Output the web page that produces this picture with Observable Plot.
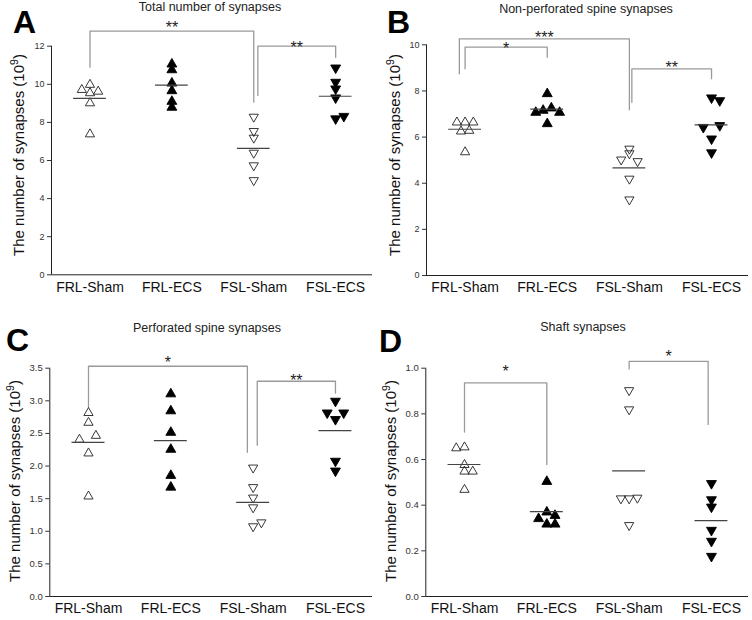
<!DOCTYPE html>
<html><head><meta charset="utf-8">
<script src="https://cdn.jsdelivr.net/npm/d3@7"></script>
<script src="https://cdn.jsdelivr.net/npm/@observablehq/plot@0.6"></script>
<style>
body{margin:0;background:#fff;font-family:"Liberation Sans",Arial,sans-serif;}
#fig{position:relative;width:752px;height:620px;overflow:hidden;background:#fff;}
.panel{position:absolute;width:376px;}
.panel svg{position:absolute;left:0;top:0;}
.letter{position:absolute;font-weight:bold;font-size:32px;line-height:1;color:#000;}
.title{position:absolute;font-size:12.5px;line-height:1;transform:translateX(-50%);white-space:nowrap;color:#222;}
.ylab{position:absolute;font-size:15px;line-height:1;white-space:nowrap;transform:translate(-50%,-50%) rotate(-90deg);color:#111;}
.ylab sup{font-size:10.5px;vertical-align:0;position:relative;top:-6px;}
</style></head><body><div id="fig"></div>
<script>
// ---------- data ----------
const groups = ["FRL-Sham", "FRL-ECS", "FSL-Sham", "FSL-ECS"];

// Panel A: total number of synapses (10^9), one array per group
const totalValues = [
  [10.03, 9.76, 9.67, 9.59, 9.06, 7.43],
  [11.11, 10.81, 10.11, 9.71, 9.15, 8.84],
  [8.24, 7.49, 7.14, 6.35, 5.69, 4.91],
  [10.81, 10.06, 9.71, 9.24, 8.27, 8.14]
];
const totalJitter = [[0,-0.1,0.1,0,0,0],[0,0,0,0,0,0],[0,0,0,0,0,0],[0,0,0,0,0.1,0]];
const totalTicks = [0, 2, 4, 6, 8, 10, 12];
// [from group, to group, top, left end, right end, label, label y]
const totalBrackets = [[0, 2, 12.79, 10.9, 9.06, "**", 13.19], [2.05, 3, 12.0, 9.41, 11.42, "**", 12.16]];

// Panel B: non-perforated spine synapses
const nonPerfValues = [
  [6.68, 6.68, 6.68, 6.29, 6.32, 5.39],
  [7.92, 7.11, 7.2, 7.3, 7.11, 6.62],
  [5.45, 5.25, 4.98, 4.91, 4.15, 3.25],
  [7.66, 7.54, 6.38, 6.46, 5.88, 5.28]
];
const nonPerfJitter = [[-0.1,0,0.1,-0.05,0.05,0],[0,-0.14,-0.05,0.05,0.15,0],[0,0,-0.1,0.1,0,0],[0,0.1,-0.1,0.1,0,0]];
const nonPerfTicks = [0, 2, 4, 6, 8, 10];
const nonPerfBrackets = [[-0.07, 2, 10.26, 8.74, 7.18, "***", 10.49], [0, 1, 9.9, 8.96, 9.46, "*", 10.04], [2.03, 3, 8.96, 7.51, 8.53, "**", 9.18]];

// Panel C: perforated spine synapses
const perfValues = [
  [2.83, 2.68, 2.42, 2.48, 2.21, 1.55],
  [3.12, 2.86, 2.53, 2.27, 1.87, 1.69],
  [1.96, 1.66, 1.5, 1.35, 1.06, 1.12],
  [2.98, 2.8, 2.8, 2.7, 2.06, 1.91]
];
const perfJitter = [[0,0,-0.11,0.09,0,0],[0,0,0,0,0,0],[0,0,0,0,0,0.1],[0,-0.1,0.1,0,0,0]];
const perfTicks = [0, 0.5, 1, 1.5, 2, 2.5, 3, 3.5];
const perfBrackets = [[0, 1.93, 3.53, 2.9, 2.21, "*", 3.65], [2.05, 3, 3.3, 2.32, 3.12, "**", 3.37]];

// Panel D: shaft synapses
const shaftValues = [
  [0.654, 0.658, 0.581, 0.552, 0.552, 0.472],
  [0.508, 0.374, 0.345, 0.359, 0.321, 0.321],
  [0.899, 0.815, 0.425, 0.425, 0.428, 0.308],
  [0.491, 0.42, 0.388, 0.286, 0.238, 0.172]
];
const shaftJitter = [[-0.1,0,0,0,0.1,0],[0,0,-0.1,0.1,0,0.1],[0,0,-0.1,0,0.1,0],[0,0,0,0,0,0]];
const shaftTicks = [0, 0.2, 0.4, 0.6, 0.8, 1.0];
const shaftBrackets = [[0, 1, 0.936, 0.72, 0.578, "*", 1.003], [2, 2.96, 1.03, 0.997, 0.753, "*", 1.07]];

// ---------- drawing ----------
const triUp = {draw(ctx, size) { const r = Math.sqrt(size / Math.PI);
  ctx.moveTo(0, -1.1 * r); ctx.lineTo(1.15 * r, 0.9 * r); ctx.lineTo(-1.15 * r, 0.9 * r); ctx.closePath(); }};
const triDown = {draw(ctx, size) { const r = Math.sqrt(size / Math.PI);
  ctx.moveTo(0, 1.1 * r); ctx.lineTo(1.15 * r, -0.9 * r); ctx.lineTo(-1.15 * r, -0.9 * r); ctx.closePath(); }};
const groupStyle = [
  {symbol: triUp, fill: "none", stroke: "#222", r: 4},
  {symbol: triUp, fill: "#000", stroke: "#000", r: 4.3},
  {symbol: triDown, fill: "none", stroke: "#222", r: 4},
  {symbol: triDown, fill: "#000", stroke: "#000", r: 4.3}
];
const xDomain = [-0.47, 3.45];

function makePlot(cfg) {
  const dotMarks = cfg.values.map((arr, g) => {
    const pts = arr.map((v, k) => ({x: g + cfg.jitter[g][k], v}));
    return Plot.dot(pts, {x: "x", y: "v", strokeWidth: 0.9, ...groupStyle[g]});
  });
  const means = cfg.values.map((arr, g) => ({g, m: d3.mean(arr)}));
  const bracketPts = [];
  cfg.brackets.forEach((b, id) => {
    bracketPts.push({id, x: b[0], y: b[3]}, {id, x: b[0], y: b[2]}, {id, x: b[1], y: b[2]}, {id, x: b[1], y: b[4]});
  });
  const labels = cfg.brackets.map(b => ({x: (b[0] + b[1]) / 2, y: b[6], t: b[5]}));
  return Plot.plot({
    width: 376, height: cfg.height,
    marginLeft: cfg.ml, marginTop: cfg.mt, marginBottom: cfg.mb, marginRight: 4,
    style: {fontFamily: "'Liberation Sans', Arial, sans-serif", background: "transparent", overflow: "visible"},
    x: {domain: xDomain},
    y: {domain: [0, cfg.ymax]},
    marks: [
      Plot.axisY({ticks: cfg.ticks, tickFormat: cfg.fmt, tickSize: 4, tickPadding: 3, fontSize: cfg.tickFont, color: "#333", label: null}),
      Plot.axisX({ticks: [0, 1, 2, 3], tickFormat: i => groups[i], tickSize: 0, tickPadding: 7, fontSize: 14, color: "#111", label: null}),
      Plot.ruleX([xDomain[0]], {stroke: "#222"}),
      Plot.ruleY([0], {stroke: "#222"}),
      Plot.line(bracketPts, {x: "x", y: "y", z: "id", stroke: "#9a9a9a", strokeWidth: 1.3}),
      Plot.text(labels, {x: "x", y: "y", text: "t", fontSize: 16, fill: "#222", dy: 4.5}),
      ...dotMarks,
      Plot.ruleY(means, {y: "m", x1: d => d.g - 0.2, x2: d => d.g + 0.2, stroke: "#444", strokeWidth: 1.2})
    ]
  });
}

const panels = [
  {left: 0, top: 0, height: 300, ml: 51, mt: 45.7, mb: 25.7, ymax: 12, ticks: totalTicks, fmt: d3.format("d"), tickFont: 9,
   values: totalValues, jitter: totalJitter, brackets: totalBrackets,
   letter: "A", lx: 13, ly: 6, title: "Total number of synapses", tx: 210, ty: 0.5, yx: 18, yy: 155},
  {left: 376, top: 0, height: 300, ml: 50, mt: 44.3, mb: 25, ymax: 10, ticks: nonPerfTicks, fmt: d3.format("d"), tickFont: 9,
   values: nonPerfValues, jitter: nonPerfJitter, brackets: nonPerfBrackets,
   letter: "B", lx: 11, ly: 6, title: "Non-perforated spine synapses", tx: 210, ty: 2.5, yx: 17.5, yy: 155},
  {left: 0, top: 300, height: 320, ml: 49.3, mt: 67.7, mb: 24, ymax: 3.5, ticks: perfTicks, fmt: d3.format(".1f"), tickFont: 9.5,
   values: perfValues, jitter: perfJitter, brackets: perfBrackets,
   letter: "C", lx: 6, ly: 24, title: "Perforated spine synapses", tx: 207, ty: 21.7, yx: 14, yy: 181},
  {left: 376, top: 300, height: 320, ml: 49.3, mt: 67.7, mb: 24, ymax: 1, ticks: shaftTicks, fmt: d3.format(".1f"), tickFont: 9.5,
   values: shaftValues, jitter: shaftJitter, brackets: shaftBrackets,
   letter: "D", lx: 3, ly: 25, title: "Shaft synapses", tx: 207, ty: 21, yx: 14, yy: 181}
];

const fig = document.getElementById("fig");
for (const p of panels) {
  const div = document.createElement("div");
  div.className = "panel";
  div.style.left = p.left + "px"; div.style.top = p.top + "px"; div.style.height = p.height + "px";
  div.appendChild(makePlot(p));
  const L = document.createElement("div"); L.className = "letter"; L.textContent = p.letter;
  L.style.left = p.lx + "px"; L.style.top = p.ly + "px"; div.appendChild(L);
  const T = document.createElement("div"); T.className = "title"; T.textContent = p.title;
  T.style.left = p.tx + "px"; T.style.top = p.ty + "px"; div.appendChild(T);
  const Y = document.createElement("div"); Y.className = "ylab";
  Y.innerHTML = "The number of synapses (10<sup>9</sup>)";
  Y.style.left = p.yx + "px"; Y.style.top = p.yy + "px"; div.appendChild(Y);
  fig.appendChild(div);
}
</script></body></html>
